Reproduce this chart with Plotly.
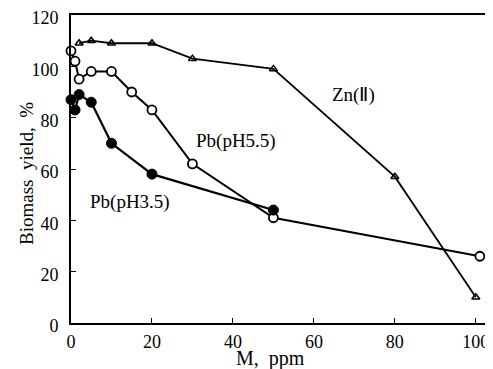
import plotly.graph_objects as go

zn_x = [2, 5, 10, 20, 30, 50, 80, 100]
zn_y = [109, 110, 109, 109, 103, 99, 57, 10]

pb55_x = [0, 1, 2, 5, 10, 15, 20, 30, 50, 101]
pb55_y = [106, 102, 95, 98, 98, 90, 83, 62, 41, 26]

pb35_x = [0, 1, 2, 5, 10, 20, 50]
pb35_y = [87, 83, 89, 86, 70, 58, 44]

x_ticks = [0, 20, 40, 60, 80, 100]
y_ticks = [0, 20, 40, 60, 80, 100, 120]

FONT = "Liberation Serif"

fig = go.Figure()
fig.add_trace(go.Scatter(
    x=zn_x, y=zn_y, mode="lines+markers", cliponaxis=False,
    line=dict(color="black", width=1.8),
    marker=dict(symbol="triangle-up-open", size=7, color="black", line=dict(width=1.5)),
    showlegend=False))
fig.add_trace(go.Scatter(
    x=pb55_x, y=pb55_y, mode="lines+markers", cliponaxis=False,
    line=dict(color="black", width=2),
    marker=dict(symbol="circle", size=9, color="white", line=dict(color="black", width=1.8)),
    showlegend=False))
fig.add_trace(go.Scatter(
    x=pb35_x, y=pb35_y, mode="lines+markers", cliponaxis=False,
    line=dict(color="black", width=2.2),
    marker=dict(symbol="circle", size=10, color="black", line=dict(color="black", width=1)),
    showlegend=False))

ann_font = dict(family=FONT, size=19, color="black")
common = dict(xref="paper", yref="paper", showarrow=False, xanchor="center", yanchor="middle")
fig.add_annotation(x=0.672, y=0.740, text="Zn(Ⅱ)", font=ann_font, **common)
fig.add_annotation(x=0.392, y=0.591, text="Pb(pH5.5)", font=ann_font, **common)
fig.add_annotation(x=0.140, y=0.393, text="Pb(pH3.5)", font=ann_font, **common)
# axis titles
fig.add_annotation(x=0.475, y=-0.114, text="M,  ppm",
                   font=dict(family=FONT, size=20, color="black"), **common)
fig.add_annotation(x=-0.107, y=0.487, text="Biomass  yield,  %", textangle=-90,
                   font=dict(family=FONT, size=19, color="black"), **common)

fig.update_layout(
    width=493, height=369,
    margin=dict(l=63, r=9, t=7, b=54),
    paper_bgcolor="white", plot_bgcolor="white",
    font=dict(family=FONT, size=18, color="black"),
)
fig.update_xaxes(
    range=[0, 104], tickvals=x_ticks, ticktext=[str(v) for v in x_ticks],
    showgrid=False, zeroline=False, showline=True, linecolor="black", linewidth=1.5,
    mirror=True, ticks="inside", ticklen=5, tickcolor="black", automargin=False,
    tickfont=dict(size=18), ticklabeloverflow="allow", ticklabelstandoff=2,
)
fig.update_yaxes(
    range=[0, 120], tickvals=y_ticks, ticktext=[str(v) for v in y_ticks],
    showgrid=False, zeroline=False, showline=True, linecolor="black", linewidth=2,
    ticks="inside", ticklen=5, tickcolor="black", automargin=False,
    tickfont=dict(size=18), ticklabeloverflow="allow", ticklabelstandoff=7,
    ticklabelshift=3,
)

fig.write_html("out.html")
